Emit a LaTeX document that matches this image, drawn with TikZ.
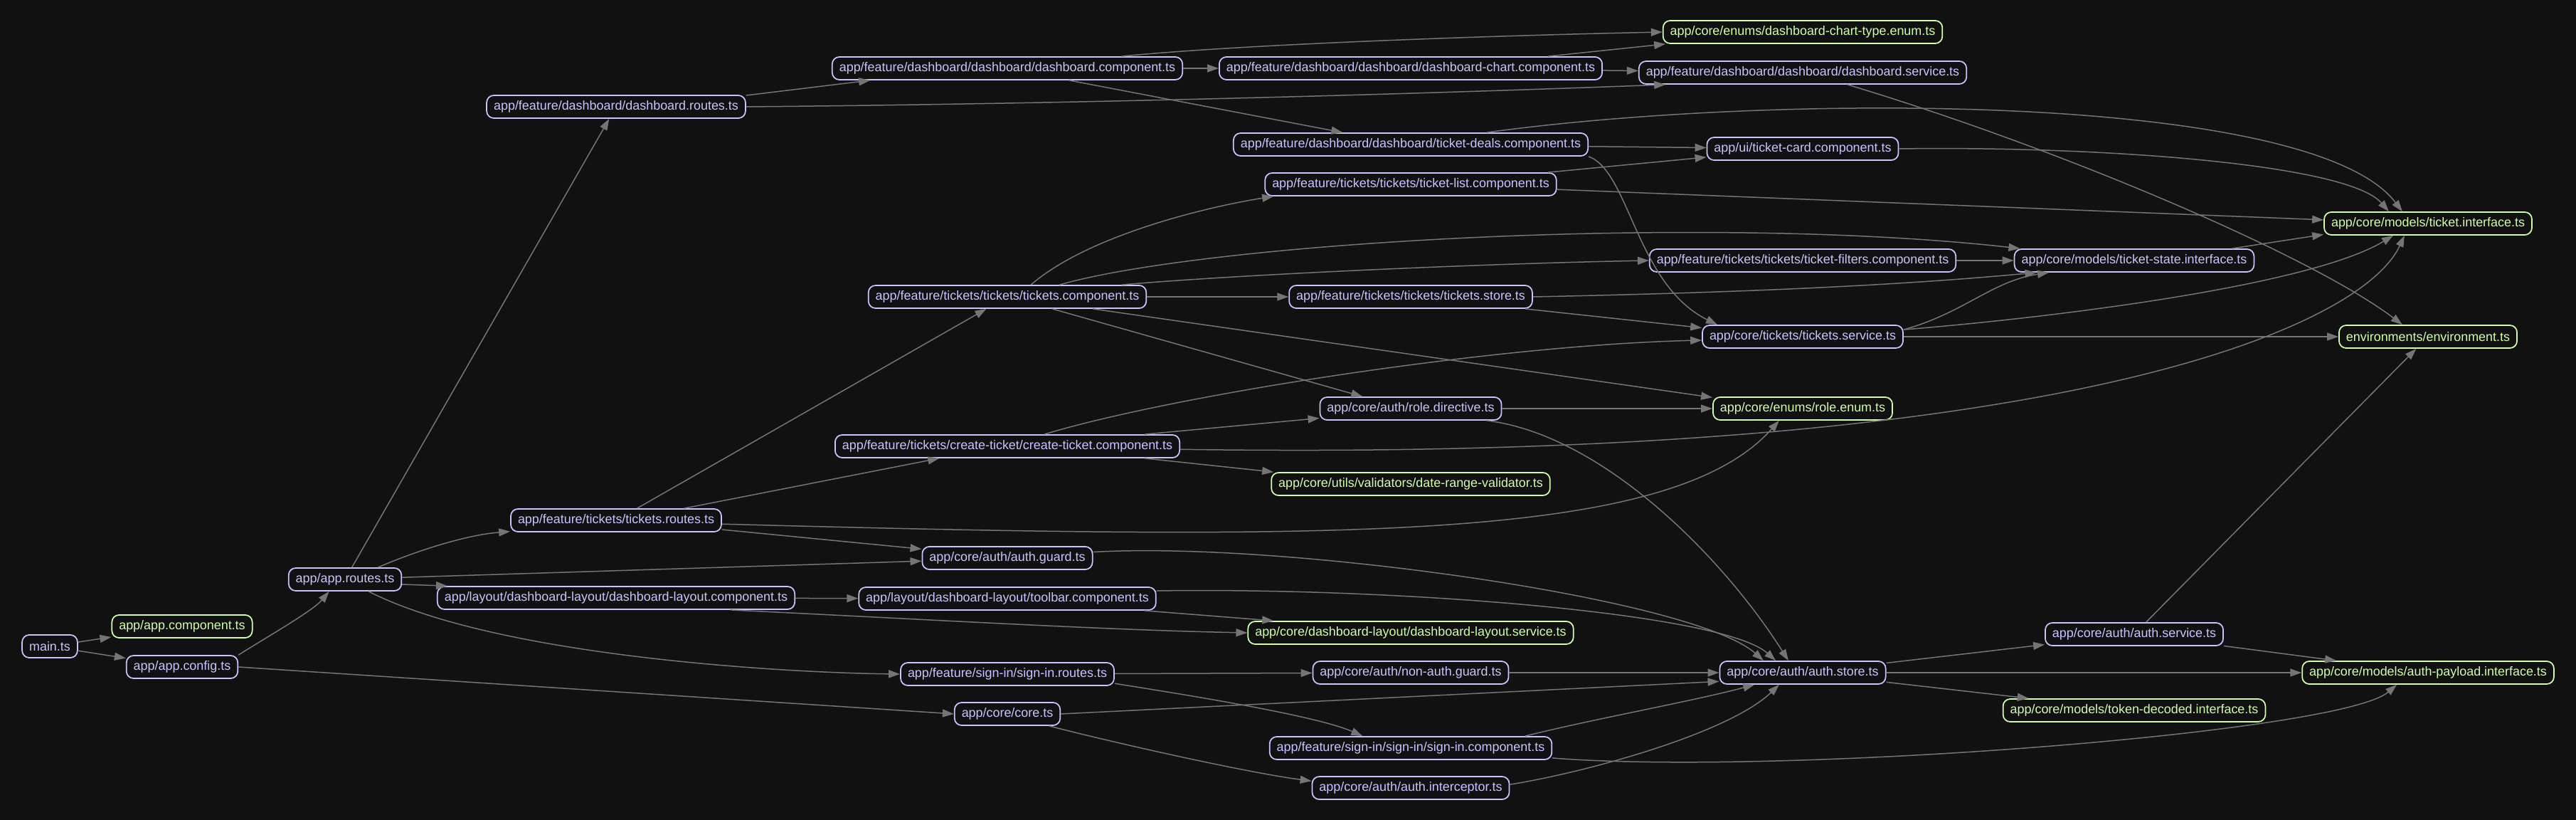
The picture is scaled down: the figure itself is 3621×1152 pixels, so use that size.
\documentclass[tikz,border=0pt]{standalone}
\usepackage{fontspec}
\setmainfont{Liberation Sans}
\usepackage{tikz}
\usetikzlibrary{arrows.meta}
\definecolor{bgdark}{HTML}{111111}
\definecolor{nodelav}{HTML}{C6C5FE}
\definecolor{leafgreen}{HTML}{CFFFAC}
\definecolor{edgegray}{HTML}{757575}

\begin{document}
\begin{tikzpicture}[x=0.2mm,y=-0.2mm,
mod/.style={draw=nodelav,text=nodelav,fill=bgdark,rounded corners=2mm,line width=0.35mm,inner xsep=2mm,minimum height=6.4mm,font=\fontsize{10.2pt}{12pt}\selectfont},
leaf/.style={mod,draw=leafgreen,text=leafgreen},
dep/.style={draw=edgegray,line width=0.3mm,-{Triangle[length=3.2mm,width=2.2mm]}}
]
\fill[bgdark] (0,0) rectangle (3621,1152);
\useasboundingbox (0,0) rectangle (3621,1152);
\node[mod] (main) at (70,908) {main.ts};
\node[leaf] (appcomp) at (256,880) {app/app.component.ts};
\node[mod] (appconfig) at (256,937) {app/app.config.ts};
\node[mod] (approutes) at (485,814) {app/app.routes.ts};
\node[mod] (dashroutes) at (866,150) {app/feature/dashboard/dashboard.routes.ts};
\node[mod] (ticketsroutes) at (866,731) {app/feature/tickets/tickets.routes.ts};
\node[mod] (layoutcomp) at (866,840) {app/layout/dashboard-layout/dashboard-layout.component.ts};
\node[mod] (dashcomp) at (1416,96) {app/feature/dashboard/dashboard/dashboard.component.ts};
\node[mod] (ticketscomp) at (1416,417) {app/feature/tickets/tickets/tickets.component.ts};
\node[mod] (createticket) at (1416,627) {app/feature/tickets/create-ticket/create-ticket.component.ts};
\node[mod] (authguard) at (1416,784) {app/core/auth/auth.guard.ts};
\node[mod] (toolbar) at (1416,841) {app/layout/dashboard-layout/toolbar.component.ts};
\node[mod] (signinroutes) at (1416,947) {app/feature/sign-in/sign-in.routes.ts};
\node[mod] (core) at (1416,1003) {app/core/core.ts};
\node[mod] (chart) at (1983,96) {app/feature/dashboard/dashboard/dashboard-chart.component.ts};
\node[mod] (deals) at (1983,203) {app/feature/dashboard/dashboard/ticket-deals.component.ts};
\node[mod] (ticketlist) at (1983,259) {app/feature/tickets/tickets/ticket-list.component.ts};
\node[mod] (ticketsstore) at (1983,417) {app/feature/tickets/tickets/tickets.store.ts};
\node[mod] (roledir) at (1983,574) {app/core/auth/role.directive.ts};
\node[leaf] (daterange) at (1983,680) {app/core/utils/validators/date-range-validator.ts};
\node[leaf] (layoutservice) at (1983,889) {app/core/dashboard-layout/dashboard-layout.service.ts};
\node[mod] (nonauth) at (1983,945) {app/core/auth/non-auth.guard.ts};
\node[mod] (signincomp) at (1983,1051) {app/feature/sign-in/sign-in/sign-in.component.ts};
\node[mod] (interceptor) at (1983,1107) {app/core/auth/auth.interceptor.ts};
\node[leaf] (charttype) at (2534,45) {app/core/enums/dashboard-chart-type.enum.ts};
\node[mod] (dashservice) at (2534,102) {app/feature/dashboard/dashboard/dashboard.service.ts};
\node[mod] (ticketcard) at (2534,209) {app/ui/ticket-card.component.ts};
\node[mod] (filters) at (2534,366) {app/feature/tickets/tickets/ticket-filters.component.ts};
\node[mod] (ticketsservice) at (2534,473) {app/core/tickets/tickets.service.ts};
\node[leaf] (roleenum) at (2534,574) {app/core/enums/role.enum.ts};
\node[mod] (authstore) at (2534,945) {app/core/auth/auth.store.ts};
\node[mod] (ticketstate) at (3000,366) {app/core/models/ticket-state.interface.ts};
\node[mod] (authservice) at (3000,891) {app/core/auth/auth.service.ts};
\node[leaf] (tokendecoded) at (3000,998) {app/core/models/token-decoded.interface.ts};
\node[leaf] (ticketiface) at (3413,314) {app/core/models/ticket.interface.ts};
\node[leaf] (environment) at (3413,473) {environments/environment.ts};
\node[leaf] (authpayload) at (3413,945) {app/core/models/auth-payload.interface.ts};
\draw[dep] (main) -- (appcomp);
\draw[dep] (main) -- (appconfig);
\draw[dep] (appconfig.12) .. controls (375,895) and (440,858) .. (approutes.217);
\draw[dep] (appconfig.east) -- (core.west);
\draw[dep] (approutes) -- (dashroutes);
\draw[dep] (approutes.20) .. controls (575,778) and (650,752) .. (ticketsroutes.186);
\draw[dep] (approutes.-5) -- ([xshift=3mm]layoutcomp.north west);
\draw[dep] (approutes.2) -- (authguard.182);
\draw[dep] (approutes.-27) .. controls (697,922) and (1100,945) .. (signinroutes.west);
\draw[dep] (layoutcomp) -- (toolbar);
\draw[dep] (layoutcomp.-6) .. controls (1300,870) and (1550,885) .. (layoutservice.west);
\draw[dep] (toolbar.-5) -- (layoutservice.175);
\draw[dep] (toolbar.3) .. controls (1950,825) and (2420,860) .. (authstore.156);
\draw[dep] (dashroutes.5) -- (dashcomp.185);
\draw[dep] (dashroutes.east) .. controls (1600,145) and (2100,128) .. (dashservice.185);
\draw[dep] (dashcomp) -- (chart);
\draw[dep] (dashcomp.6) .. controls (1750,62) and (2100,50) .. (charttype.west);
\draw[dep] (dashcomp.-11) -- (deals.170);
\draw[dep] (chart.5) -- (charttype.185);
\draw[dep] (chart) -- (dashservice);
\draw[dep] (dashservice.-15) .. controls (2900,210) and (3250,360) .. (environment.155);
\draw[dep] (deals) -- (ticketcard);
\draw[dep] (deals.9) .. controls (2500,130) and (3250,130) .. (ticketiface.155);
\draw[dep] (deals.south east) .. controls (2290,240) and (2300,400) .. (ticketsservice.172);
\draw[dep] (ticketlist.5) -- (ticketcard.185);
\draw[dep] (ticketlist.-2) -- (ticketiface.178);
\draw[dep] (ticketcard.east) .. controls (2950,205) and (3300,230) .. (ticketiface.163);
\draw[dep] (ticketsroutes) -- (ticketscomp);
\draw[dep] (ticketsroutes.10) -- (createticket.190);
\draw[dep] (ticketsroutes.-5) -- (authguard.174);
\draw[dep] (ticketsroutes.-2) .. controls (1900,760) and (2350,760) .. (roleenum.207);
\draw[dep] (ticketscomp.27) .. controls (1530,330) and (1700,290) .. (ticketlist.185);
\draw[dep] (ticketscomp.13) .. controls (1700,340) and (2400,300) .. (ticketstate.174);
\draw[dep] (ticketscomp.6) .. controls (1750,385) and (2100,370) .. (filters.west);
\draw[dep] (ticketscomp) -- (ticketsstore);
\draw[dep] (ticketscomp.-15) -- (roledir.166);
\draw[dep] (ticketscomp.-8) -- (roleenum.173);
\draw[dep] (createticket.5) -- (roledir.186);
\draw[dep] (createticket.18) .. controls (1650,555) and (2100,485) .. (ticketsservice.182);
\draw[dep] (createticket.-5) -- (daterange.175);
\draw[dep] (createticket.-1) .. controls (2900,650) and (3320,460) .. (ticketiface.207);
\draw[dep] (ticketsstore.east) .. controls (2500,410) and (2700,398) .. (ticketstate.187);
\draw[dep] (ticketsstore.-6) -- (ticketsservice.175);
\draw[dep] (filters) -- (ticketstate);
\draw[dep] (ticketsservice.4) .. controls (2760,440) and (2800,395) .. (ticketstate.188);
\draw[dep] (ticketsservice.4) .. controls (2900,445) and (3250,400) .. (ticketiface.199);
\draw[dep] (ticketsservice) -- (environment);
\draw[dep] (ticketstate.7) -- (ticketiface.186);
\draw[dep] (roledir) -- (roleenum);
\draw[dep] (roledir.-9) .. controls (2250,610) and (2420,780) .. (authstore.140);
\draw[dep] (authguard.4) .. controls (1800,760) and (2380,840) .. (authstore.163);
\draw[dep] (signinroutes) -- (nonauth);
\draw[dep] (signinroutes.-5) .. controls (1660,975) and (1850,1005) .. (signincomp.166);
\draw[dep] (core.east) -- (authstore.186);
\draw[dep] (core.-16) .. controls (1560,1042) and (1750,1085) .. (interceptor.176);
\draw[dep] (nonauth) -- (authstore);
\draw[dep] (signincomp.6) .. controls (2240,1010) and (2380,985) .. (authstore.194);
\draw[dep] (signincomp.-4) .. controls (2500,1090) and (3290,1030) .. (authpayload.201);
\draw[dep] (interceptor.2) .. controls (2230,1085) and (2430,1030) .. (authstore.207);
\draw[dep] (authstore) -- (authservice);
\draw[dep] (authstore) -- (authpayload);
\draw[dep] (authstore) -- (tokendecoded);
\draw[dep] (authservice) -- (authpayload);
\draw[dep] (authservice) -- (environment);
\end{tikzpicture}
\end{document}
